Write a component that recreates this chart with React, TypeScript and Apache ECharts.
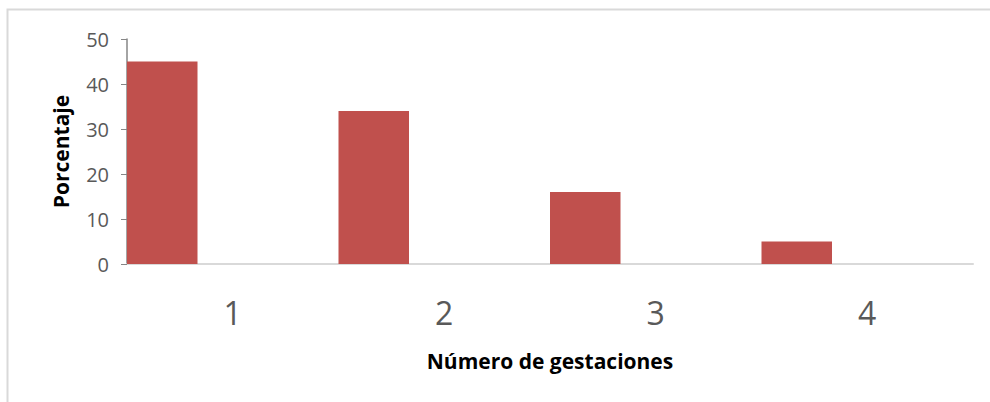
import React, { useEffect, useRef } from "react";
import * as echarts from "echarts";

const categories = ["1", "2", "3", "4"];
const porcentaje = [45, 34, 16, 5];
const emptyA = [null, null, null, null];
const emptyB = [null, null, null, null];
const yTicks = { min: 0, max: 50, interval: 10 };

export default function App() {
  const ref = useRef<HTMLDivElement>(null);
  useEffect(() => {
    const chart = echarts.init(ref.current!, null, { renderer: "svg" });
    const font = "'Open Sans', 'Liberation Sans', sans-serif";
    chart.setOption({
      animation: false,
      backgroundColor: "#fff",
      textStyle: { fontFamily: font },
      graphic: [
        {
          type: "rect",
          shape: { x: 7.5, y: 9.5, width: 1100, height: 500 },
          style: { fill: "none", stroke: "#d9d9d9", lineWidth: 2 },
          silent: true,
        },
      ],
      grid: { left: 127, top: 39, right: 17, bottom: 138 },
      xAxis: {
        type: "category",
        data: categories,
        axisTick: { show: false },
        axisLine: { lineStyle: { color: "#d9d9d9", width: 2 } },
        axisLabel: { color: "#595959", fontSize: 32, margin: 32, fontFamily: font },
        name: "Número de gestaciones",
        nameLocation: "middle",
        nameGap: 86,
        nameTextStyle: { color: "#000", fontSize: 21, fontWeight: "bold", fontFamily: font },
      },
      yAxis: {
        type: "value",
        min: yTicks.min,
        max: yTicks.max,
        interval: yTicks.interval,
        splitLine: { show: false },
        axisLine: { show: true, lineStyle: { color: "#868686", width: 1.5 } },
        axisTick: { show: true, length: 6, lineStyle: { color: "#868686" } },
        axisLabel: { color: "#595959", fontSize: 20, margin: 18, fontFamily: font },
        name: "Porcentaje",
        nameLocation: "middle",
        nameGap: 56,
        nameTextStyle: { color: "#000", fontSize: 21, fontWeight: "bold", fontFamily: font },
      },
      series: [
        { type: "bar", data: porcentaje, itemStyle: { color: "#C0504D" }, barGap: "0%", barCategoryGap: "0%" },
        { type: "bar", data: emptyA, barGap: "0%", barCategoryGap: "0%" },
        { type: "bar", data: emptyB, barGap: "0%", barCategoryGap: "0%" },
      ],
    });
    return () => chart.dispose();
  }, []);
  return (
    <div
      ref={ref}
      style={{ position: "absolute", left: 0, top: 0, width: 990, height: 402 }}
    />
  );
}
